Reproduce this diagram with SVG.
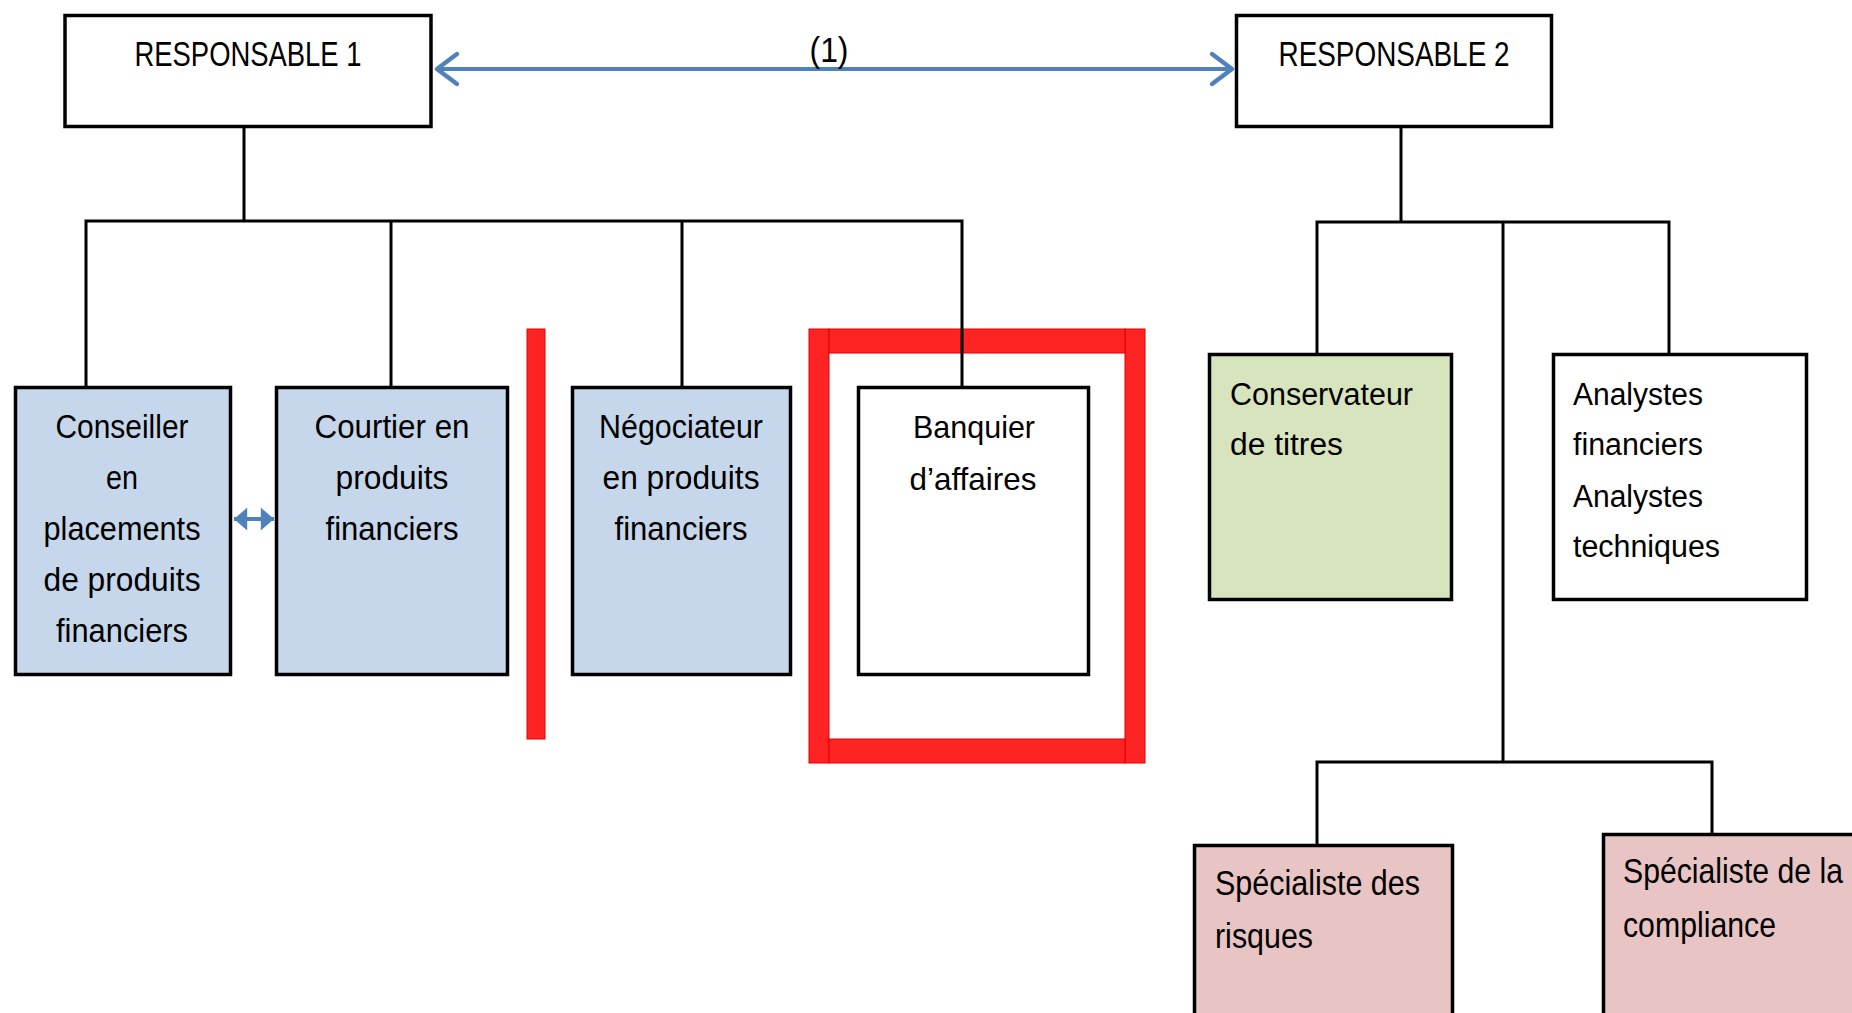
<svg xmlns="http://www.w3.org/2000/svg" width="1852" height="1013" viewBox="0 0 1852 1013">
<style>
.box{stroke:#000;stroke-width:3.5}
.blue{fill:#C6D7EB}
.green{fill:#D7E4BD}
.pink{fill:#E8C4C4}
.white{fill:#FFFFFF}
.t{font-family:"Liberation Sans",Arial,sans-serif;fill:#000}
.c{text-anchor:middle}
.title{font-size:35px}
.big{font-size:33.5px}
.mid{font-size:32px}
.sm{font-size:31px}
.pk{font-size:35px}
.conn{stroke:#000;stroke-width:3;fill:none}
.red{fill:#FF2424;stroke:#E00000;stroke-width:1}
.link{stroke:#4F81BD;stroke-width:4;fill:none}
</style>
<defs>
<marker id="chev" markerUnits="userSpaceOnUse" markerWidth="30" markerHeight="40" viewBox="-22 -18 26 36" refX="0" refY="0" orient="auto-start-reverse">
<path d="M-18,-13.5 L0,0 L-18,13.5" fill="none" stroke="#4F81BD" stroke-width="4" stroke-linecap="round" stroke-linejoin="round"/>
</marker>
<marker id="tri" markerUnits="userSpaceOnUse" markerWidth="16" markerHeight="24" viewBox="-12 -10 13 20" refX="0" refY="0" orient="auto-start-reverse">
<path d="M-11,-9.5 L0,0 L-11,9.5 Z" fill="#4F81BD"/>
</marker>
</defs>
<rect width="1852" height="1013" fill="#FFFFFF"/>

<g id="red-marks">
<rect class="red" x="527" y="329" width="18" height="410"/>
<rect class="red" x="809" y="329" width="20" height="434"/>
<rect class="red" x="1125" y="329" width="20" height="434"/>
<rect class="red" x="829" y="329" width="296" height="24"/>
<rect class="red" x="829" y="739" width="296" height="24"/>
</g>

<g id="connectors">
<path class="conn" d="M244 128 V221 M84.5 221 H963.5 M86 221 V386 M391 221 V386 M682 221 V386 M962 221 V386"/>
<path class="conn" d="M1401 128 V222 M1315.5 222 H1670.5 M1317 222 V353 M1669 222 V353 M1503 222 V762 M1315.5 762 H1713.5 M1317 762 V844 M1712 762 V833"/>
<line class="link" x1="437" y1="69" x2="1232" y2="69" marker-start="url(#chev)" marker-end="url(#chev)"/>
<line class="link" x1="234" y1="519" x2="274" y2="519" stroke-width="3.5" marker-start="url(#tri)" marker-end="url(#tri)"/>
<text class="t c title" x="829" y="62" textLength="39" lengthAdjust="spacingAndGlyphs">(1)</text>
</g>

<g id="responsable1">
<rect class="box white" x="65" y="15.5" width="366" height="111"/>
<text class="t c title" x="248" y="66" textLength="227" lengthAdjust="spacingAndGlyphs">RESPONSABLE 1</text>
</g>

<g id="responsable2">
<rect class="box white" x="1236.5" y="15.5" width="315" height="111"/>
<text class="t c title" x="1394" y="66" textLength="231" lengthAdjust="spacingAndGlyphs">RESPONSABLE 2</text>
</g>

<g id="conseiller">
<rect class="box blue" x="15.5" y="387.5" width="215" height="287"/>
<text class="t c big" x="122" y="438" textLength="133" lengthAdjust="spacingAndGlyphs">Conseiller</text>
<text class="t c big" x="122" y="489" textLength="32" lengthAdjust="spacingAndGlyphs">en</text>
<text class="t c big" x="122" y="540" textLength="157" lengthAdjust="spacingAndGlyphs">placements</text>
<text class="t c big" x="122" y="591" textLength="157" lengthAdjust="spacingAndGlyphs">de produits</text>
<text class="t c big" x="122" y="642" textLength="132" lengthAdjust="spacingAndGlyphs">financiers</text>
</g>

<g id="courtier">
<rect class="box blue" x="276.5" y="387.5" width="231" height="287"/>
<text class="t c big" x="392" y="438" textLength="155" lengthAdjust="spacingAndGlyphs">Courtier en</text>
<text class="t c big" x="392" y="489" textLength="113" lengthAdjust="spacingAndGlyphs">produits</text>
<text class="t c big" x="392" y="540" textLength="133" lengthAdjust="spacingAndGlyphs">financiers</text>
</g>

<g id="negociateur">
<rect class="box blue" x="572.5" y="387.5" width="218" height="287"/>
<text class="t c big" x="681" y="438" textLength="164" lengthAdjust="spacingAndGlyphs">Négociateur</text>
<text class="t c big" x="681" y="489" textLength="157" lengthAdjust="spacingAndGlyphs">en produits</text>
<text class="t c big" x="681" y="540" textLength="133" lengthAdjust="spacingAndGlyphs">financiers</text>
</g>

<g id="banquier">
<rect class="box white" x="858.5" y="387.5" width="230" height="287"/>
<text class="t c mid" x="974" y="438" textLength="122" lengthAdjust="spacingAndGlyphs">Banquier</text>
<text class="t c mid" x="973" y="490" textLength="127" lengthAdjust="spacingAndGlyphs">d’affaires</text>
</g>

<g id="conservateur">
<rect class="box green" x="1209.5" y="354.5" width="242" height="245"/>
<text class="t sm" x="1230" y="405" textLength="183" lengthAdjust="spacingAndGlyphs">Conservateur</text>
<text class="t sm" x="1230" y="455" textLength="113" lengthAdjust="spacingAndGlyphs">de titres</text>
</g>

<g id="analystes">
<rect class="box white" x="1553.5" y="354.5" width="253" height="245"/>
<text class="t sm" x="1573" y="405" textLength="130" lengthAdjust="spacingAndGlyphs">Analystes</text>
<text class="t sm" x="1573" y="455" textLength="130" lengthAdjust="spacingAndGlyphs">financiers</text>
<text class="t sm" x="1573" y="507" textLength="130" lengthAdjust="spacingAndGlyphs">Analystes</text>
<text class="t sm" x="1573" y="557" textLength="147" lengthAdjust="spacingAndGlyphs">techniques</text>
</g>

<g id="risques">
<rect class="box pink" x="1194.5" y="845.5" width="258" height="200"/>
<text class="t pk" x="1215" y="895" textLength="205" lengthAdjust="spacingAndGlyphs">Spécialiste des</text>
<text class="t pk" x="1215" y="948" textLength="98" lengthAdjust="spacingAndGlyphs">risques</text>
</g>

<g id="compliance">
<rect class="box pink" x="1603.5" y="834.5" width="300" height="200"/>
<text class="t pk" x="1623" y="883" textLength="220" lengthAdjust="spacingAndGlyphs">Spécialiste de la</text>
<text class="t pk" x="1623" y="937" textLength="153" lengthAdjust="spacingAndGlyphs">compliance</text>
</g>
</svg>
